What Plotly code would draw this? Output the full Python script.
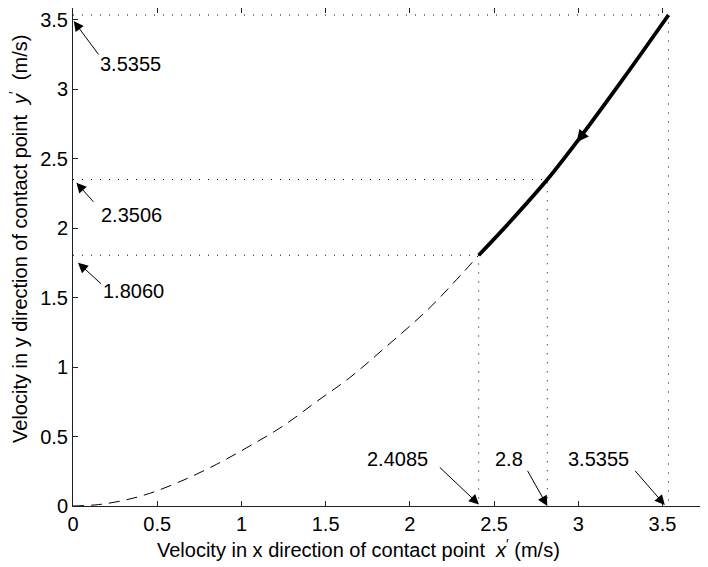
import plotly.graph_objects as go

# ---- data ----
x_dash = [0, 0.15, 0.30, 0.455, 0.653, 0.852, 1.049, 1.247, 1.445, 1.643, 1.841, 2.108, 2.306, 2.4085]
y_dash = [0, 0.010, 0.040, 0.091, 0.185, 0.300, 0.432, 0.576, 0.751, 0.924, 1.128, 1.416, 1.668, 1.806]
x_solid = [2.4085, 2.595, 2.816, 2.995, 3.266, 3.5355]
y_solid = [1.806, 2.047, 2.3506, 2.628, 3.075, 3.5355]

mark_x = [2.4085, 2.816, 3.5355]
mark_y = [1.806, 2.3506, 3.5355]
x_mark_labels = ["2.4085", "2.8", "3.5355"]
y_mark_labels = ["1.8060", "2.3506", "3.5355"]

x_ticks = [0, 0.5, 1, 1.5, 2, 2.5, 3, 3.5]
x_tick_text = ["0", "0.5", "1", "1.5", "2", "2.5", "3", "3.5"]
y_ticks = [0, 0.5, 1, 1.5, 2, 2.5, 3, 3.5]
y_tick_text = ["0", "0.5", "1", "1.5", "2", "2.5", "3", "3.5"]

x_title = "Velocity in x direction of contact point  <i>x</i><sup>′</sup> (m/s)"
y_title = "Velocity in y direction of contact point  <i>y</i><sup>′</sup>  (m/s)"

# ---- styling / placement (pixels) ----
FONT = "Liberation Sans, Arial, Helvetica, sans-serif"
FS = 20
AX = "#222222"

# arrow geometry for marked x values: (tip xshift, tip yshift, ax, ay, text xshift, text yshift)
x_arrow_geo = [(0.3, 1.5, -40.7, -38.5, -80.7, 47),
               (0.0, 0.0, -20.6, -36.7, -38.3, 47),
               (-3.7, 1.0, -31.0, -35.7, -69.7, 47)]
y_arrow_geo = [(5.0, -7.5, 24.4, 22.3, 60.7, -36.0),
               (3.4, -3.1, 18.3, 20.6, 58.7, -35.4),
               (0.7, -6.0, 26.0, 35.0, 57.7, -48.9)]

fig = go.Figure()

# dotted guide lines
gx, gy = [], []
for mx, my in zip(mark_x, mark_y):
    gx += [0, mx, mx, None]
    gy += [my, my, 0, None]
fig.add_trace(go.Scatter(x=gx, y=gy, mode="lines",
                         line=dict(color="black", width=1, dash="1px,8px"),
                         hoverinfo="skip", showlegend=False))

fig.add_trace(go.Scatter(x=x_dash, y=y_dash, mode="lines",
                         line=dict(color="black", width=1, dash="11px,7px", shape="spline"),
                         showlegend=False))
fig.add_trace(go.Scatter(x=x_solid, y=y_solid, mode="lines",
                         line=dict(color="black", width=3.8, shape="spline"),
                         showlegend=False))

ann = []
for mx, lab, g in zip(mark_x, x_mark_labels, x_arrow_geo):
    ann.append(dict(x=mx, y=0, xref="x", yref="y", text="", showarrow=True,
                    ax=g[2], ay=g[3], xshift=g[0], yshift=g[1],
                    arrowhead=2, arrowsize=2, arrowwidth=1, arrowcolor="black"))
    ann.append(dict(x=mx, y=0, xref="x", yref="y", text=lab, showarrow=False,
                    xshift=g[4], yshift=g[5], font=dict(family=FONT, size=FS, color="black")))
for my, lab, g in zip(mark_y, y_mark_labels, y_arrow_geo):
    ann.append(dict(x=0, y=my, xref="x", yref="y", text="", showarrow=True,
                    ax=g[2], ay=g[3], xshift=g[0], yshift=g[1],
                    arrowhead=2, arrowsize=2, arrowwidth=1, arrowcolor="black"))
    ann.append(dict(x=0, y=my, xref="x", yref="y", text=lab, showarrow=False,
                    xshift=g[4], yshift=g[5], font=dict(family=FONT, size=FS, color="black")))

# direction arrow on the solid curve
ann.append(dict(x=2.99, y=2.62, xref="x", yref="y", text="", showarrow=True,
                ax=8, ay=-10, arrowhead=2, arrowsize=1.2, arrowwidth=2, arrowcolor="black"))

# axis titles
ann.append(dict(x=0.450, y=-0.086, xref="paper", yref="paper", text=x_title, showarrow=False,
                xanchor="center", yanchor="middle", font=dict(family=FONT, size=FS, color="black")))
ann.append(dict(x=-0.086, y=0.537, xref="paper", yref="paper", text=y_title, showarrow=False,
                textangle=-90, xanchor="center", yanchor="middle",
                font=dict(family=FONT, size=FS, color="black")))

# page body has an 8px margin: figure sized/offset so the axes land where the reference has them
fig.update_layout(
    width=700, height=559,
    margin=dict(l=65, r=0, t=0, b=61, autoexpand=False),
    paper_bgcolor="white", plot_bgcolor="white",
    font=dict(family=FONT, size=FS, color="black"),
    annotations=ann,
    showlegend=False,
)
fig.update_xaxes(range=[0, 3.77], tickvals=x_ticks, ticktext=x_tick_text,
                 showgrid=False, zeroline=False, showline=True, linecolor=AX, linewidth=1,
                 mirror="ticks", ticks="inside", ticklen=5, tickcolor=AX,
                 tickfont=dict(family=FONT, size=FS, color="black"))
fig.update_yaxes(range=[0, 3.586], tickvals=y_ticks, ticktext=y_tick_text,
                 showgrid=False, zeroline=False, showline=True, linecolor=AX, linewidth=1,
                 mirror="ticks", ticks="inside", ticklen=5, tickcolor=AX,
                 tickfont=dict(family=FONT, size=FS, color="black"))

fig.write_html("out.html")
